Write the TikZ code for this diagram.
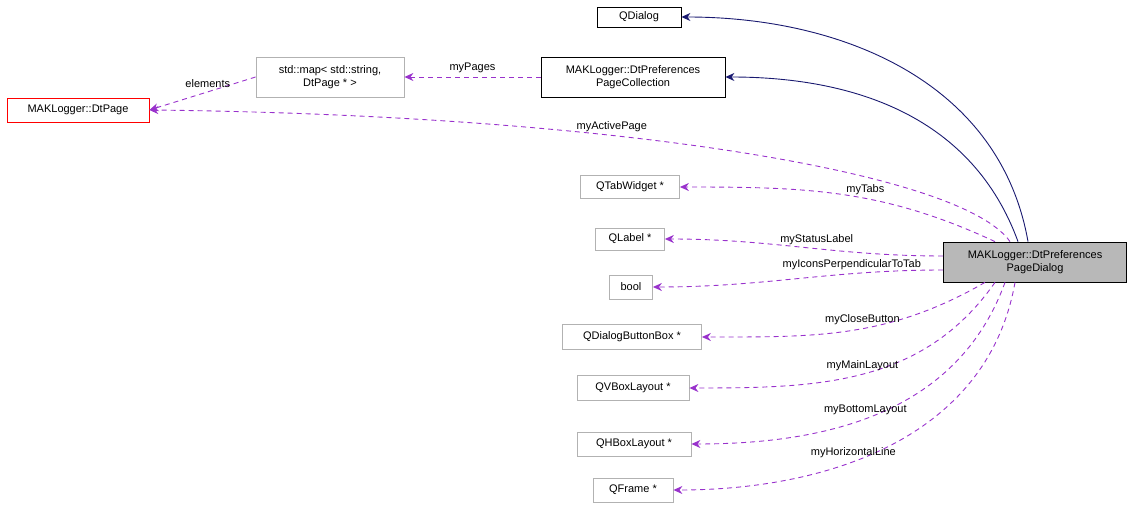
\documentclass[tikz,border=0pt]{standalone}
\usepackage{fontspec}
\setmainfont{Liberation Sans}
\usetikzlibrary{arrows.meta,positioning}
\definecolor{navy}{RGB}{25,25,112}
\definecolor{dpurple}{RGB}{153,50,204}
\tikzset{
  % member and base class boxes
  cls/.style={draw, rectangle, fill=white, line width=0.8pt, inner sep=2pt, align=center, font=\fontsize{11}{12.5}\selectfont},
  member/.style={cls, draw=black!30},
  base/.style={navy, line width=0.9pt, -{Stealth[length=9pt,width=8pt]}},
  use/.style={dpurple, line width=0.9pt, dash pattern=on 5pt off 4pt, -{Stealth[length=9pt,width=8pt]}},
  lbl/.style={text=black, font=\fontsize{11}{12.5}\selectfont}}

\begin{document}
\begin{tikzpicture}[x=1pt,y=-1pt]
\useasboundingbox (0,0) rectangle (1133,510);

\node (dlg) [cls, minimum width=84pt, minimum height=20pt] at (639,17) {QDialog};
\node (coll) [cls, minimum width=184pt, minimum height=40pt] at (633,77) {MAKLogger::DtPreferences\\PageCollection};
\node (map) [member, minimum width=148pt, minimum height=40pt] at (330,77) {std::map\symbol{60} std::string,\\DtPage * \symbol{62}};
\node (page) [cls, draw=red, minimum width=142pt, minimum height=24pt] at (78,110) {MAKLogger::DtPage};
\node (tabs) [member, minimum width=99pt, minimum height=23pt] at (630,187) {QTabWidget *};
\node (label) [member, minimum width=69pt, minimum height=22pt] at (630,239) {QLabel *};
\node (bool) [member, minimum width=43pt, minimum height=24pt] at (631,287) {bool};
\node (bbox) [member, minimum width=139pt, minimum height=25pt] at (632,337) {QDialogButtonBox *};
\node (vbox) [member, minimum width=112pt, minimum height=25pt] at (633,388) {QVBoxLayout *};
\node (hbox) [member, minimum width=114pt, minimum height=24pt] at (634,444) {QHBoxLayout *};
\node (frame) [member, minimum width=80pt, minimum height=24pt] at (633,490) {QFrame *};
\node (main) [cls, fill=black!28, draw=black, minimum width=183pt, minimum height=40pt] at (1035,262) {MAKLogger::DtPreferences\\PageDialog};

\draw [base] (main.north -| 1028,0) to[out=100,in=0] (dlg.east);
\draw [base] (main.north -| 1018,0) to[out=110,in=0] (coll.east);

\draw [use] (coll.west) -- node[lbl, above] {myPages} (map.east);
\draw [use] (map.west) -- node[lbl, above, pos=0.45] {elements} (page.east);
\draw [use] (main.north -| 1010,0) .. controls (960,170) and (600,115) .. node[lbl, pos=0.62, above] {myActivePage} (page.east);
\draw [use] (main.north -| 995,0) to[out=155,in=0] node[lbl, pos=0.42, above] {myTabs} (tabs.east);
\draw [use] (main.west |- 0,256) to[out=180,in=0] node[lbl, pos=0.45, above] {myStatusLabel} (label.east);
\draw [use] (main.west |- 0,270) to[out=180,in=0] node[lbl, pos=0.3, above] {myIconsPerpendicularToTab} (bool.east);
\draw [use] (main.south -| 985,0) to[out=-150,in=0] node[lbl, pos=0.45, above] {myCloseButton} (bbox.east);
\draw [use] (main.south -| 995,0) to[out=-125,in=0] node[lbl, pos=0.5, above] {myMainLayout} (vbox.east);
\draw [use] (main.south -| 1005,0) to[out=-110,in=0] node[lbl, pos=0.55, above] {myBottomLayout} (hbox.east);
\draw [use] (main.south -| 1015,0) to[out=-100,in=0] node[lbl, pos=0.6, above] {myHorizontalLine} (frame.east);
\end{tikzpicture}
\end{document}
